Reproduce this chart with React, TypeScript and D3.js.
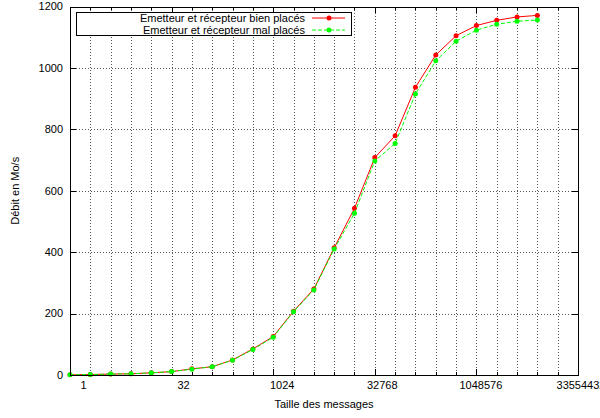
import React from "react";
import * as d3 from "d3";

// message sizes (bytes) and measured bandwidth (Mo/s)
const tailles = [
  1, 2, 4, 8, 16, 32, 64, 128, 256, 512, 1024, 2048, 4096, 8192, 16384,
  32768, 65536, 131072, 262144, 524288, 1048576, 2097152, 4194304, 8388608,
];
const bienPlaces = [
  0.5, 1.5, 3, 4, 7, 11, 20, 27, 49, 85, 125, 208, 280, 414, 543, 708, 779,
  937, 1042, 1105, 1138, 1155, 1166, 1171,
];
const malPlaces = [
  0.5, 1.5, 3, 4, 7, 11, 19, 27, 48, 83, 123, 206, 277, 410, 527, 697, 754,
  915, 1023, 1087, 1123, 1142, 1152, 1156,
];
const xMajorTicks = [1, 32, 1024, 32768, 1048576, 33554432];
const xMinorTicks = [
  2, 4, 8, 16, 64, 128, 256, 512, 2048, 4096, 8192, 16384, 65536, 131072,
  262144, 524288, 2097152, 4194304, 8388608, 16777216,
];
const yTicks = [0, 200, 400, 600, 800, 1000, 1200];

const series = [
  { name: "Emetteur et récepteur bien placés", values: bienPlaces, color: "#ff0000", dash: "none" },
  { name: "Emetteur et récepteur mal placés", values: malPlaces, color: "#00ff00", dash: "4,2" },
];

const W = 600;
const H = 418;
const m = { left: 70, right: 578, top: 6.5, bottom: 375 };
const font = "'Liberation Sans', Arial, sans-serif";

export default function App() {
  const x = d3.scaleLog().base(2).domain([1, 33554432]).range([m.left, m.right]);
  const y = d3.scaleLinear().domain([0, 1200]).range([m.bottom, m.top]);

  const line = d3
    .line<number>()
    .x((_, i) => x(tailles[i]))
    .y((v) => y(v));

  const gridX = [...xMajorTicks, ...xMinorTicks].filter((t) => t > 1 && t < 33554432);

  return (
    <svg
      width={W}
      height={H}
      style={{ position: "absolute", left: 0, top: 0, background: "#fff" }}
      fontFamily={font}
    >
      {/* grid */}
      <g stroke="#555" strokeWidth={1} strokeDasharray="1,2" shapeRendering="crispEdges">
        {gridX.map((t) => (
          <line key={"gx" + t} x1={Math.round(x(t)) + 0.5} x2={Math.round(x(t)) + 0.5} y1={m.top} y2={m.bottom} />
        ))}
        {yTicks.slice(1, -1).map((t) => (
          <line key={"gy" + t} x1={m.left} x2={m.right} y1={Math.round(y(t)) + 0.5} y2={Math.round(y(t)) + 0.5} />
        ))}
      </g>

      {/* ticks */}
      <g stroke="#000" strokeWidth={1} shapeRendering="crispEdges">
        {yTicks.map((t) => (
          <g key={"ty" + t}>
            <line x1={m.left} x2={m.left + 6} y1={Math.round(y(t)) + 0.5} y2={Math.round(y(t)) + 0.5} />
            <line x1={m.right} x2={m.right - 6} y1={Math.round(y(t)) + 0.5} y2={Math.round(y(t)) + 0.5} />
          </g>
        ))}
        {xMajorTicks.map((t) => (
          <g key={"tx" + t}>
            <line x1={Math.round(x(t)) + 0.5} x2={Math.round(x(t)) + 0.5} y1={m.bottom} y2={m.bottom - 6} />
            <line x1={Math.round(x(t)) + 0.5} x2={Math.round(x(t)) + 0.5} y1={m.top} y2={m.top + 6} />
          </g>
        ))}
        {xMinorTicks.map((t) => (
          <g key={"tm" + t}>
            <line x1={Math.round(x(t)) + 0.5} x2={Math.round(x(t)) + 0.5} y1={m.bottom} y2={m.bottom - 3} />
            <line x1={Math.round(x(t)) + 0.5} x2={Math.round(x(t)) + 0.5} y1={m.top} y2={m.top + 3} />
          </g>
        ))}
      </g>

      {/* tick labels */}
      <g fontSize={11} fill="#000">
        {yTicks.map((t) => (
          <text key={"ly" + t} x={m.left - 7} y={y(t)} dy="0.35em" textAnchor="end">
            {t}
          </text>
        ))}
        {xMajorTicks.map((t) => {
          const s = String(t);
          return (
            <text key={"lx" + t} x={x(t)} dx={15 - 1.5 * s.length} y={m.bottom + 14} textAnchor="middle">
              {s}
            </text>
          );
        })}
      </g>

      {/* axis titles */}
      <text x={(m.left + m.right) / 2} y={408} fontSize={11} textAnchor="middle">
        Taille des messages
      </text>
      <text
        transform={`translate(19, ${(m.top + m.bottom) / 2}) rotate(-90)`}
        fontSize={11}
        textAnchor="middle"
      >
        Débit en Mo/s
      </text>

      {/* series */}
      {series.map((s) => (
        <g key={s.name}>
          <path d={line(s.values) ?? ""} fill="none" stroke={s.color} strokeWidth={1} strokeDasharray={s.dash} />
          {s.values.map((v, i) => (
            <circle key={i} cx={x(tailles[i])} cy={y(v)} r={2.5} fill={s.color} />
          ))}
        </g>
      ))}

      {/* frame */}
      <rect
        x={m.left + 0.5}
        y={m.top + 0.5}
        width={m.right - m.left}
        height={m.bottom - m.top}
        fill="none"
        stroke="#000"
        strokeWidth={1}
        shapeRendering="crispEdges"
      />

      {/* legend */}
      <g>
        <rect x={76.5} y={12.5} width={275} height={23} fill="#fff" stroke="#000" strokeWidth={1} shapeRendering="crispEdges" />
        {series.map((s, i) => {
          const ly = 18 + i * 12;
          return (
            <g key={"lg" + s.name}>
              <text x={305} y={ly} dy="0.35em" fontSize={11} textAnchor="end">
                {s.name}
              </text>
              <line x1={312} x2={345} y1={ly} y2={ly} stroke={s.color} strokeWidth={1} strokeDasharray={s.dash} />
              <circle cx={329} cy={ly} r={2.5} fill={s.color} />
            </g>
          );
        })}
      </g>
    </svg>
  );
}
